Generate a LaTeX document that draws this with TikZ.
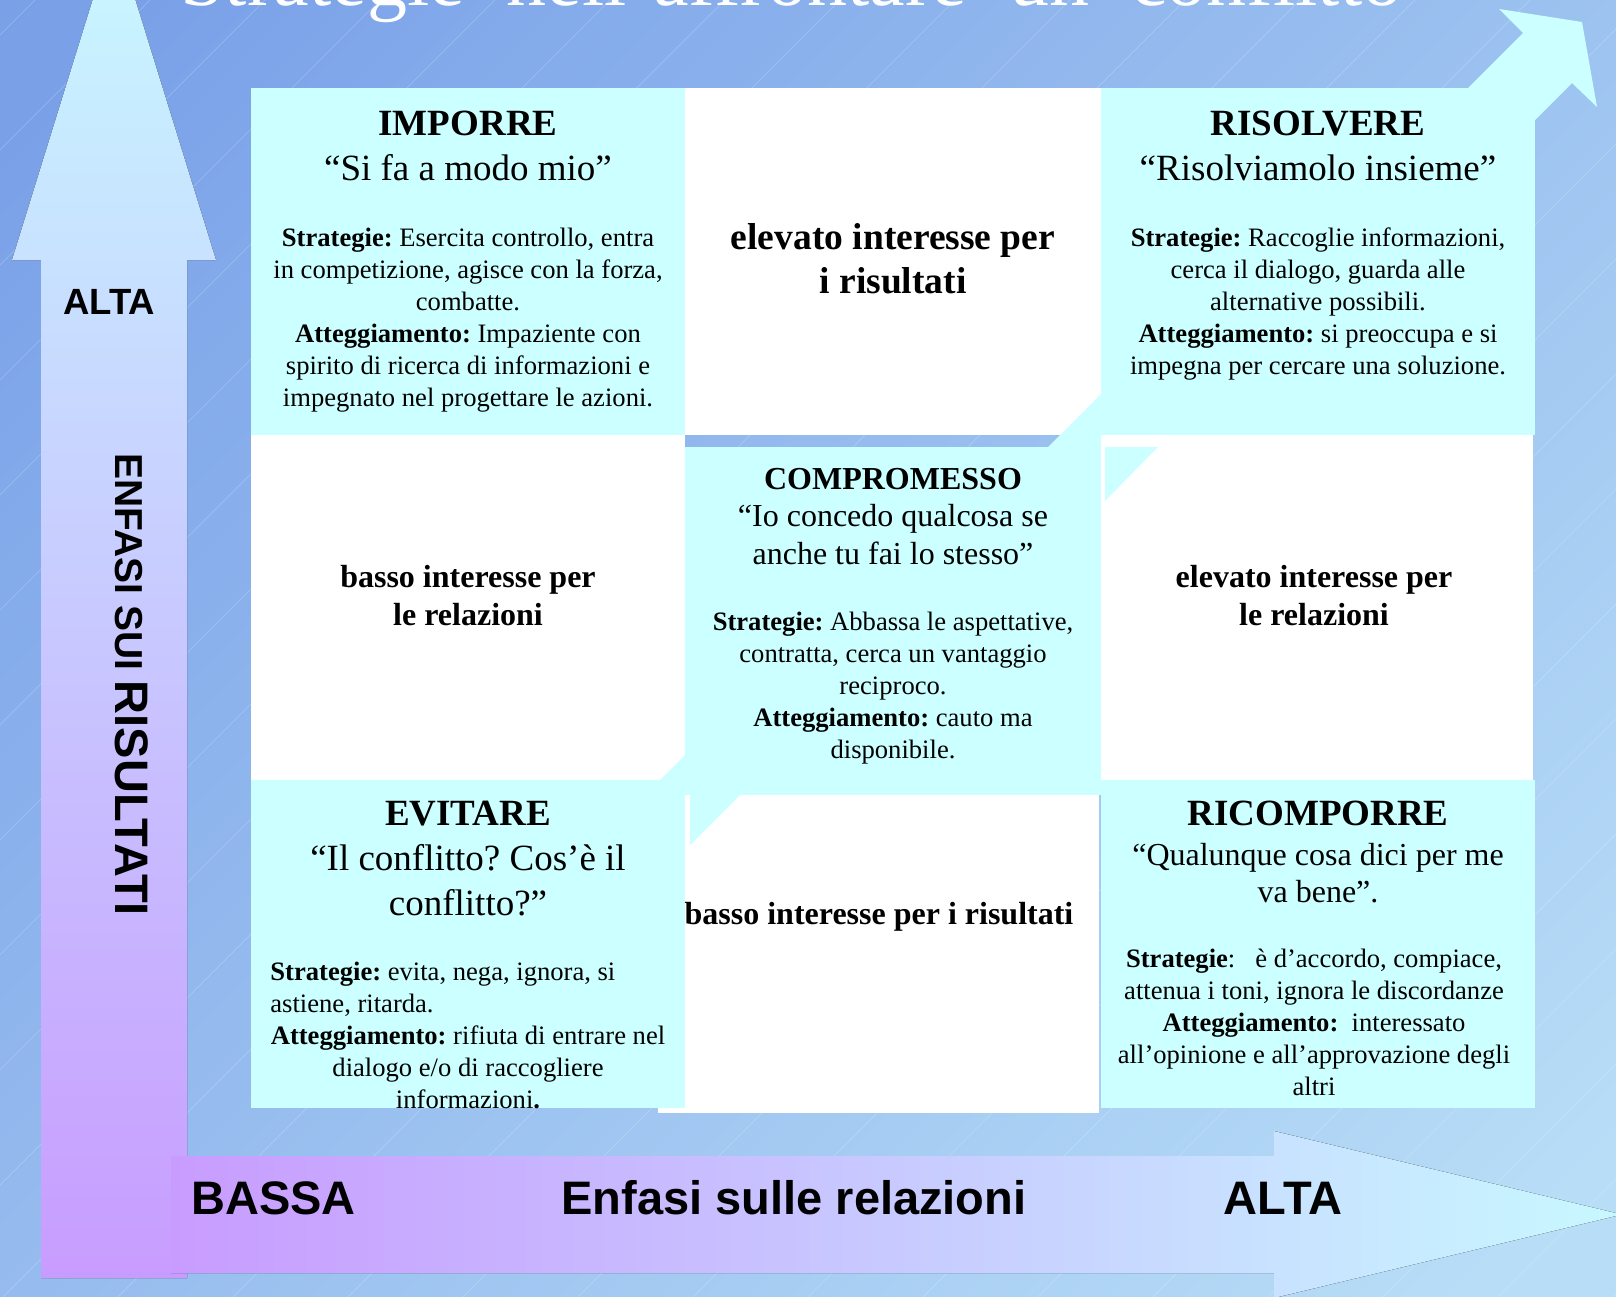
\documentclass[tikz,border=0pt]{standalone}
\usepackage{fontspec}
\setmainfont{Liberation Serif}
\setsansfont{Liberation Sans}
\frenchspacing
\definecolor{bgA}{HTML}{7AA1E8}
\definecolor{bgB}{HTML}{B8DDF7}
\definecolor{cyanbox}{HTML}{CCFFFF}
\definecolor{arrowcyan}{HTML}{C8F8FF}
\definecolor{arrowpurple}{HTML}{C89CFF}
\newcommand{\fs}{\rule{0pt}{0.9em}}
\begin{document}
\begin{tikzpicture}[x=0.5pt,y=-0.5pt,
  cyancell/.style={fill=cyanbox},
  whitecell/.style={fill=white},
  diagpiece/.style={fill=cyanbox},
  headtxt/.style={font=\fontsize{18.5pt}{22.5pt}\selectfont, align=center, inner sep=0pt, anchor=north},
  subtxt/.style={font=\fontsize{16pt}{18.75pt}\selectfont, align=center, inner sep=0pt, anchor=north},
  bodytxt/.style={font=\fontsize{13.3pt}{16pt}\selectfont, align=center, inner sep=0pt, anchor=north},
  bigbold/.style={font=\fontsize{18.75pt}{22pt}\selectfont\bfseries, align=center, inner sep=0pt, anchor=north},
  midbold/.style={font=\fontsize{16pt}{19pt}\selectfont\bfseries, align=center, inner sep=0pt, anchor=north},
  axislbl/.style={font=\sffamily\bfseries, inner sep=0pt},
  hatch/.style={white, opacity=0.25, line width=0.3pt}
]
\useasboundingbox (0,0) rectangle (1616,1296);
% background
\shade[top color=bgA, bottom color=bgB, shading angle=45] (-200,-200) rectangle (1816,1496);
\foreach \k in {-12,...,15} {
  \draw[hatch] (\k*115,1300) -- ++(1400,-1400);
}
% title (cut off at top)
\node[anchor=base west, text=white, inner sep=0pt, font=\fontsize{40pt}{48pt}\selectfont] (title) at (180,5.5) {\spaceskip=21pt\relax Strategie nell’affrontare un conflitto};

% vertical axis arrow
\fill[top color=arrowcyan, bottom color=arrowpurple]
  (41,1278) -- (41,260) -- (12,260) -- (114,-69) -- (216,260) -- (187,260) -- (187,1278) -- cycle;
% horizontal axis arrow
\fill[left color=arrowpurple, right color=arrowcyan]
  (171,1156) -- (1274,1156) -- (1274,1131) -- (1622,1214.5) -- (1274,1298) -- (1274,1273) -- (171,1273) -- cycle;

% diagonal arrow at top right
\fill[diagpiece] (1400,156) -- (1523,33) -- (1499,9) -- (1582,22) -- (1597,107) -- (1572,83) -- (1480,175) -- cycle;

% white cells
\fill[whitecell] (685,88) rectangle (1101,435);
\fill[whitecell] (251,435) rectangle (685,780);
\fill[whitecell] (1101,435) rectangle (1533,780);
\fill[whitecell] (658,795) rectangle (1099,1113);

% diagonal pieces
\fill[diagpiece] (1048,447) -- (1101,394) -- (1101,447) -- cycle;
\fill[diagpiece] (1105,447) -- (1158,447) -- (1105,501) -- cycle;
\fill[diagpiece] (660,780) -- (685,755) -- (685,780) -- cycle;
\fill[diagpiece] (690,795) -- (740,795) -- (690,845) -- cycle;

% cyan cells
\fill[cyancell] (251,88) rectangle (685,435);
\fill[cyancell] (1101,88) rectangle (1535,435);
\fill[cyancell] (685,447) rectangle (1101,795);
\fill[cyancell] (251,780) rectangle (685,1108);
\fill[cyancell] (1101,780) rectangle (1535,1108);

% IMPORRE
\node[headtxt] (impT) at (468,101.7) {\fs\textbf{IMPORRE}\\“Si fa a modo mio”};
\node[bodytxt] (impB) at (468,222.1) {\fs\textbf{Strategie:} Esercita controllo, entra\\in competizione, agisce con la forza,\\combatte.\\\textbf{Atteggiamento:} Impaziente con\\spirito di ricerca di informazioni e\\impegnato nel progettare le azioni.};

% top middle
\node[bigbold] (topM) at (893,215) {\fs elevato interesse per\\i risultati};

% RISOLVERE
\node[headtxt] (risT) at (1318,101.7) {\fs\textbf{RISOLVERE}\\“Risolviamolo insieme”};
\node[bodytxt] (risB) at (1318,222.1) {\fs\textbf{Strategie:} Raccoglie informazioni,\\cerca il dialogo, guarda alle\\alternative possibili.\\\textbf{Atteggiamento:} si preoccupa e si\\impegna per cercare una soluzione.};

% middle row
\node[midbold] (midL) at (468,557.8) {\fs basso interesse per\\le relazioni};
\node[midbold] (midR) at (1314,557.8) {\fs elevato interesse per\\le relazioni};

% COMPROMESSO
\node[subtxt] (comT) at (893,459.8) {\fs\textbf{COMPROMESSO}\\“Io concedo qualcosa se\\anche tu fai lo stesso”};
\node[bodytxt] (comB) at (893,606.1) {\fs\textbf{Strategie:} Abbassa le aspettative,\\contratta, cerca un vantaggio\\reciproco.\\\textbf{Atteggiamento:} cauto ma\\disponibile.};

% EVITARE
\node[headtxt] (eviT) at (468,792.2) {\fs\textbf{EVITARE}\\“Il conflitto? Cos’è il\\conflitto?”};
\node[bodytxt, align=left, anchor=north west] (eviB1) at (270,956.1) {\fs\textbf{Strategie:} evita, nega, ignora, si\\astiene, ritarda.};
\node[bodytxt] (eviB2) at (468,1020.1) {\fs\textbf{Atteggiamento:} rifiuta di entrare nel\\dialogo e/o di raccogliere\\informazioni\textbf{.}};

% bottom middle
\node[midbold] (botM) at (879,895.2) {\fs basso interesse per i risultati};

% RICOMPORRE
\node[headtxt] (ricT) at (1318,792.2) {\fs\textbf{RICOMPORRE}};
\node[subtxt] (ricQ) at (1318,835.8) {\fs“Qualunque cosa dici per me\\va bene”.};
\node[bodytxt] (ricB) at (1314,943.6) {\fs\textbf{Strategie}:\ \ \ è d’accordo, compiace,\\attenua i toni, ignora le discordanze\\\textbf{Atteggiamento:}\ \ interessato\\all’opinione e all’approvazione degli\\altri};

% axis labels
\node[axislbl, anchor=base, font=\sffamily\bfseries\fontsize{18.25pt}{22pt}\selectfont] (altaV) at (109,314) {ALTA};
\node[axislbl, rotate=-90, anchor=base west] (enfV) at (115,453) {\fontsize{19.5pt}{23pt}\selectfont ENFASI SUI \fontsize{23.5pt}{28pt}\selectfont RISULTATI};
\node[axislbl, anchor=base, font=\sffamily\bfseries\fontsize{23.5pt}{28pt}\selectfont] (bassaH) at (273.5,1214) {BASSA};
\node[axislbl, anchor=base, font=\sffamily\bfseries\fontsize{23.5pt}{28pt}\selectfont] (enfH) at (794,1214) {Enfasi sulle relazioni};
\node[axislbl, anchor=base, font=\sffamily\bfseries\fontsize{23.5pt}{28pt}\selectfont] (altaH) at (1283,1214) {ALTA};
\end{tikzpicture}
\end{document}
